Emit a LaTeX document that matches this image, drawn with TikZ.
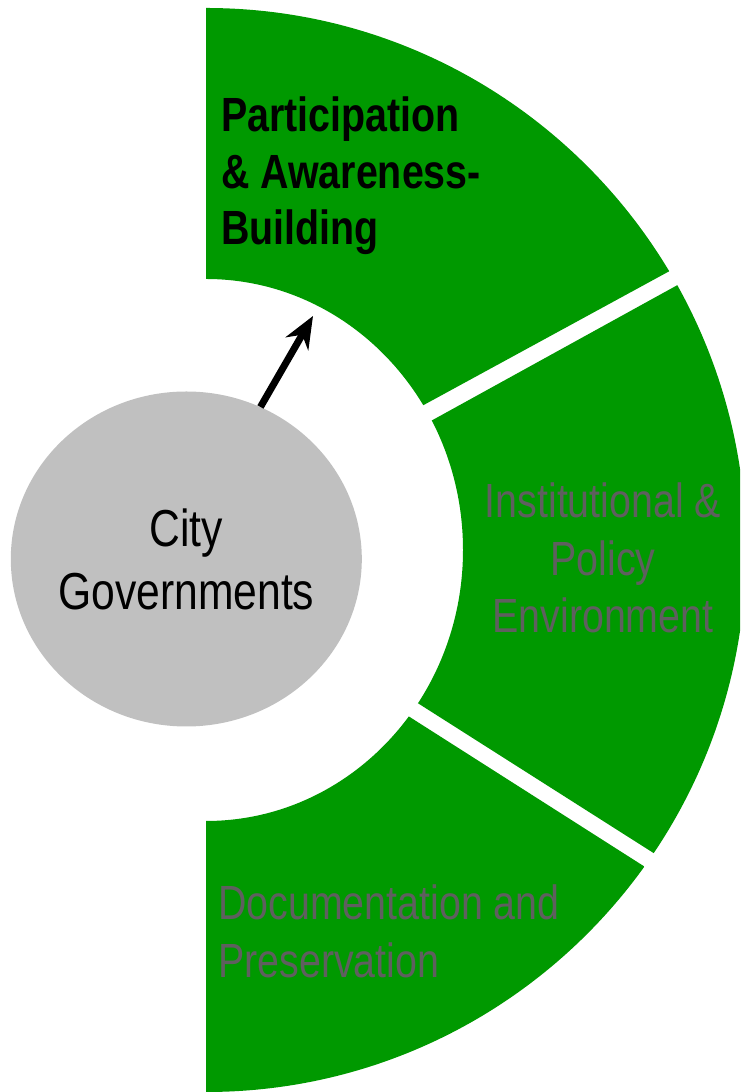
\documentclass[tikz,border=0pt]{standalone}
\usepackage{fontspec}
\setmainfont{Liberation Sans}[FakeStretch=0.82]
\usetikzlibrary{positioning, shapes.geometric, arrows.meta}
\definecolor{segGreen}{RGB}{0,153,0}
\definecolor{hubGrey}{RGB}{192,192,192}
\definecolor{labelGrey}{RGB}{95,95,95}

\begin{document}
\begin{tikzpicture}
		[
		x=1pt, y=1pt,
		segment/.style ={fill=segGreen, draw=none},
		hub/.style ={ellipse, fill=hubGrey, minimum width=351pt, minimum height=335pt, inner xsep=-40pt, inner ysep=0pt, align=center, font=\fontsize{52}{63}\selectfont},
		lead/.style ={anchor=north west, inner sep=0pt, align=left, font=\bfseries\fontsize{48}{56.5}\selectfont},
		areaname/.style ={inner sep=0pt, text=labelGrey, font=\fontsize{48}{57.5}\selectfont},
		link/.style ={-{Stealth[length=32pt, width=26pt]}, line width=7pt}
		]
		\path[use as bounding box] (0,0) rectangle (740,1092);
		\clip (0,0) rectangle (740,1092);
		% three pieces of the half ring
		\foreach \pa/\pb/\pc/\pd in {{206,1100}/{760,1100}/{760,870.2}/{206,568.4},
			{206,547.1}/{760,852.4}/{760,171.3}/{206,523.5},
			{206,504.8}/{760,151.8}/{760,-10}/{206,-10}}
		{
			\begin{scope}
				\clip (\pa) -- (\pb) -- (\pc) -- (\pd) -- cycle;
				\fill[segment] (206,1084) arc[start angle=90, end angle=-90, x radius=540, y radius=542]
					-- (206,271) arc[start angle=-90, end angle=90, x radius=257, y radius=271] -- cycle;
			\end{scope}
		}
		\node[lead] (pa) at (221,995) {Participation\\\& Awareness-\\Building};
		\node[areaname, anchor=north, align=center] (ip) at (603,609) {Institutional \&\\Policy\\Environment};
		\node[areaname, anchor=north west, align=left] (dp) at (218,207) {Documentation and\\Preservation};
		\node[hub] (cg) at (186.3,533) {City\\Governments};
		\coordinate (tip) at (313,776);
		\draw[link] (cg.64) -- (tip);
	\end{tikzpicture}
\end{document}
